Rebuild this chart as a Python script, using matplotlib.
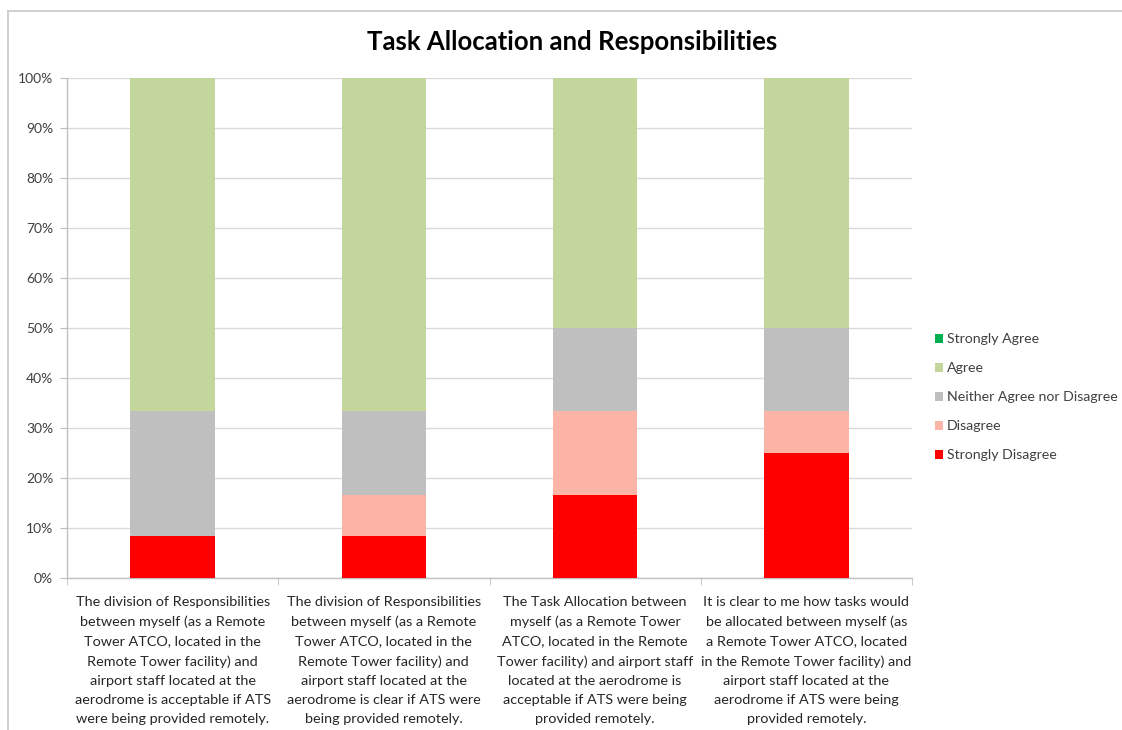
import matplotlib
matplotlib.use("Agg")
import matplotlib.pyplot as plt
from matplotlib.lines import Line2D
from matplotlib.ticker import FixedLocator, PercentFormatter
import numpy as np

plt.rcParams['font.family'] = ['Lato', 'DejaVu Sans']

categories = [
    "The division of Responsibilities\nbetween myself (as a Remote\nTower ATCO, located in the\nRemote Tower facility) and\nairport staff located at the\naerodrome is acceptable if ATS\nwere being provided remotely.",
    "The division of Responsibilities\nbetween myself (as a Remote\nTower ATCO, located in the\nRemote Tower facility) and\nairport staff located at the\naerodrome is clear if ATS were\nbeing provided remotely.",
    "The Task Allocation between\nmyself (as a Remote Tower\nATCO, located in the Remote\nTower facility) and airport staff\nlocated at the aerodrome is\nacceptable if ATS were being\nprovided remotely.",
    "It is clear to me how tasks would\nbe allocated between myself (as\na Remote Tower ATCO, located\nin the Remote Tower facility) and\nairport staff located at the\naerodrome if ATS were being\nprovided remotely.",
]
series_names = ["Strongly Disagree", "Disagree", "Neither Agree nor Disagree", "Agree", "Strongly Agree"]
strongly_disagree = [8.33, 8.33, 16.67, 25.0]
disagree = [0.0, 8.33, 16.67, 8.33]
neither = [25.0, 16.67, 16.67, 16.67]
agree = [66.67, 66.67, 50.0, 50.0]
strongly_agree = [0.0, 0.0, 0.0, 0.0]
colors = ["#ff0000", "#fbb4a5", "#bfbfbf", "#c3d69b", "#00b050"]
yticks = [0, 10, 20, 30, 40, 50, 60, 70, 80, 90, 100]

W, H = 1122, 730
fig = plt.figure(figsize=(W / 100, H / 100), dpi=100)
fig.patch.set_facecolor("white")
ax = fig.add_axes([67 / W, 1 - 578 / H, (912 - 67) / W, (578 - 78) / H])

x = np.arange(len(categories))
bottom = np.zeros(len(categories))
handles = []
for name, vals, c in zip(series_names,
                         [strongly_disagree, disagree, neither, agree, strongly_agree],
                         colors):
    b = ax.bar(x, vals, width=0.4, bottom=bottom, color=c, label=name, zorder=3)
    handles.append(b)
    bottom += np.array(vals)

ax.set_xlim(-0.5, len(categories) - 0.5)
ax.set_ylim(0, 100)
ax.set_yticks(yticks)
ax.yaxis.set_major_formatter(PercentFormatter(decimals=0))
ax.grid(axis="y", color="#d9d9d9", linewidth=1.0, zorder=0)
ax.set_axisbelow(True)

for s in ["top", "right"]:
    ax.spines[s].set_visible(False)
for s in ["left", "bottom"]:
    ax.spines[s].set_color("#bfbfbf")
    ax.spines[s].set_linewidth(1.0)

ax.set_xticks(x)
ax.set_xticklabels(categories, fontsize=10.4, color="#262626", linespacing=1.72, va="top")
ax.tick_params(axis="x", which="major", length=0, pad=13)
ax.xaxis.set_minor_locator(FixedLocator(np.arange(-0.5, len(categories), 1.0)))
ax.tick_params(axis="x", which="minor", length=5, color="#bfbfbf")
ax.tick_params(axis="y", length=5, color="#bfbfbf", labelsize=10, labelcolor="#404040", pad=5)

fig.text(572 / W, 1 - 42 / H, "Task Allocation and Responsibilities", ha="center", va="center",
         fontsize=18.5, fontweight="bold", color="black")

leg = fig.legend(handles[::-1], series_names[::-1], loc="center left",
                 bbox_to_anchor=(922 / W, 1 - 397 / H), frameon=False,
                 fontsize=10.2, handlelength=0.6, handleheight=0.6, handletextpad=0.25,
                 labelspacing=1.2, labelcolor="#404040")

fig.add_artist(Line2D([8 / W, 8 / W], [1 - 11 / H, 0], transform=fig.transFigure,
                      color="#c8c8c8", linewidth=1.2))
fig.add_artist(Line2D([8 / W, 1], [1 - 11 / H, 1 - 11 / H], transform=fig.transFigure,
                      color="#c8c8c8", linewidth=1.2))

fig.savefig("out.png", dpi=100)
